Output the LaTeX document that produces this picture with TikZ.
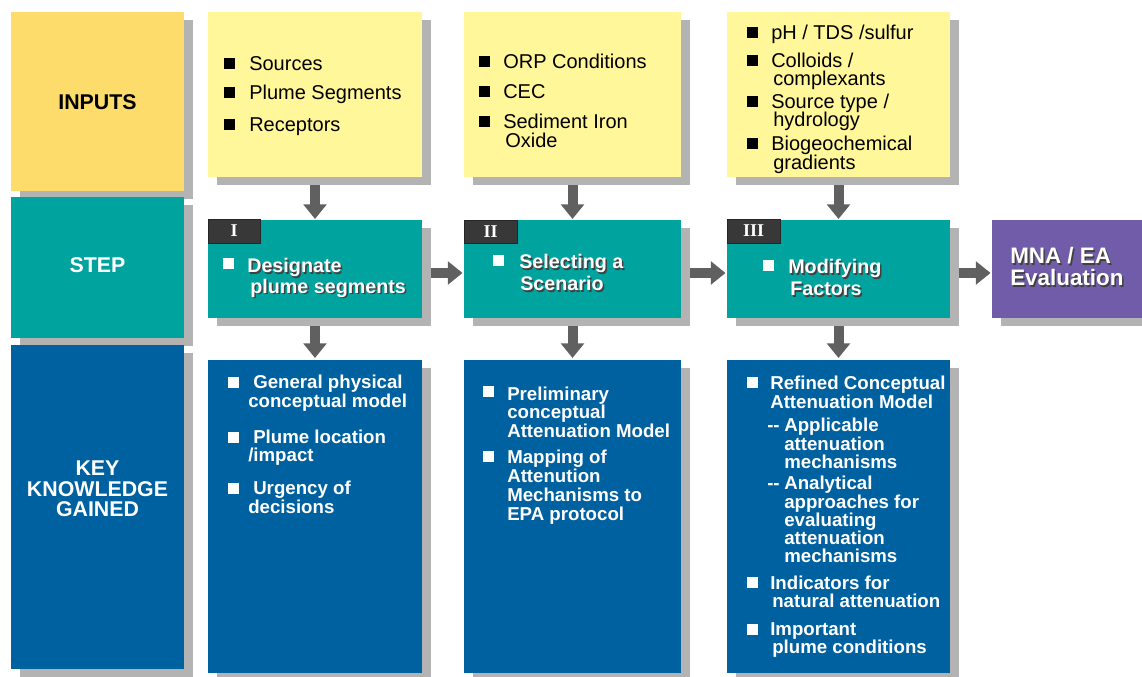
\documentclass[tikz,border=0pt]{standalone}
\usepackage{fontspec}
\setmainfont{Liberation Sans}
\newfontfamily\serifbf{Liberation Serif}
\usetikzlibrary{arrows.meta,calc}
\pgfdeclarelayer{bg}
\pgfsetlayers{bg,main}
\definecolor{cInY}{HTML}{FDDC6C}
\definecolor{cBoxY}{HTML}{FFF799}
\definecolor{cTeal}{HTML}{00A39E}
\definecolor{cBlue}{HTML}{0061A0}
\definecolor{cPur}{HTML}{705CA8}
\definecolor{cSh}{HTML}{B3B3B3}
\definecolor{cArr}{HTML}{606060}
\definecolor{cTab}{HTML}{383838}
\tikzset{
  box/.style={draw=none, inner sep=0pt, outer sep=0pt},
  arr/.style={draw=cArr, line width=7.5pt, -{Triangle[width=17pt,length=11pt]}},
  ytxt/.style={anchor=base west, inner sep=0pt, font=\fontsize{15}{15}\selectfont, text=black},
  stxt/.style={anchor=base west, inner sep=0pt, font=\bfseries\fontsize{14.8}{15}\selectfont},
  mtxt/.style={anchor=base west, inner sep=0pt, font=\bfseries\fontsize{16.8}{17}\selectfont},
  btxt/.style={anchor=base west, inner sep=0pt, font=\bfseries\fontsize{14}{14}\selectfont, text=white},
  lab/.style={anchor=base, inner sep=0pt, font=\bfseries\fontsize{16}{16}\selectfont},
  tabbox/.style={fill=cTab, draw=black!85, line width=0.6pt, inner sep=0pt},
  tabtxt/.style={font=\serifbf\bfseries\fontsize{13.5}{13.5}\selectfont, text=white, inner sep=0pt},
}
% box with drop shadow: name, x1, y1, x2, y2, fill
\newcommand\shbox[6]{%
  \fill[cSh] ({#2+9},{#3+8}) rectangle ({#4+9},{#5+8});
  \pgfmathsetmacro\bw{(#4-#2)*0.75}\pgfmathsetmacro\bh{(#5-#3)*0.75}%
  \node[box, fill=#6, minimum width=\bw pt, minimum height=\bh pt] (#1) at ({(#2+#4)/2},{(#3+#5)/2}) {};}
% bullet square: x, baseline, colour
\newcommand\bul[3]{\fill[#3] (#1,{#2-12.5}) rectangle ({#1+11},{#2-1.5});}
% shadowed white text: name, x, y, text, style
\newcommand\sht[5]{%
  \node[#5, text=black!75] at ({#2+1.5},{#3+1.5}) {#4};
  \node[#5, text=white] (#1) at (#2,#3) {#4};}
\begin{document}
\begin{tikzpicture}[x=0.75pt, y=-0.75pt]
\useasboundingbox (0,0) rectangle (1142,677);
\clip (0,0) rectangle (1142,677);

% left column
\shbox{lin}{11}{12}{184}{191}{cInY}
\shbox{lst}{11}{197}{184}{338}{cTeal}
\shbox{lkey}{11}{345}{184}{669}{cBlue}
\node[lab, text=black] (tin) at (97.5,110) {INPUTS};
\node[lab, text=white] (tst) at (97.5,273) {STEP};
\node[lab, text=white] (tk1) at (97.5,475) {KEY};
\node[lab, text=white] (tk2) at (97.5,496) {KNOWLEDGE};
\node[lab, text=white] (tk3) at (97.5,516) {GAINED};

% input boxes
\shbox{in1}{208}{12}{422}{177}{cBoxY}
\shbox{in2}{464}{12}{681}{177}{cBoxY}
\shbox{in3}{727}{12}{950}{177}{cBoxY}

% step boxes
\shbox{st1}{208}{220}{422}{318}{cTeal}
\shbox{st2}{464}{220}{681}{318}{cTeal}
\shbox{st3}{727}{220}{950}{318}{cTeal}
\shbox{mna}{992}{220}{1160}{318}{cPur}

% key knowledge boxes
\shbox{kb1}{208}{360}{422}{673}{cBlue}
\shbox{kb2}{464}{360}{681}{673}{cBlue}
\shbox{kb3}{727}{360}{950}{673}{cBlue}

% white page and arrows (behind boxes and shadows)
\begin{pgfonlayer}{bg}
\fill[white] (0,0) rectangle (1142,677);
\draw[arr] (in1.south) -- ([yshift=0.75pt]st1.north);
\draw[arr] (in2.south) -- ([yshift=0.75pt]st2.north);
\draw[arr] (in3.south) -- ([yshift=0.75pt]st3.north);
\draw[arr] (st1.south) -- ([yshift=1.5pt]kb1.north);
\draw[arr] (st2.south) -- ([yshift=1.5pt]kb2.north);
\draw[arr] (st3.south) -- ([yshift=1.5pt]kb3.north);
\draw[arr] ($(st1.east)+(0,4)$) -- ($(st2.west)+(-1.5,4)$);
\draw[arr] ($(st2.east)+(0,4)$) -- ($(st3.west)+(-1.5,4)$);
\draw[arr] ($(st3.east)+(0,4)$) -- ($(mna.west)+(-1.5,4)$);
\end{pgfonlayer}

% input texts
\bul{224}{71}{black}\node[ytxt] (a1) at (249,71) {Sources};
\bul{224}{100}{black}\node[ytxt] (a2) at (249,100) {Plume Segments};
\bul{224}{132}{black}\node[ytxt] (a3) at (249,132) {Receptors};

\bul{479}{69}{black}\node[ytxt] (b1) at (503,69) {ORP Conditions};
\bul{479}{99}{black}\node[ytxt] (b2) at (503,99) {CEC};
\bul{479}{129}{black}\node[ytxt] (b3) at (503,129) {Sediment Iron};
\node[ytxt] (b4) at (505,148) {Oxide};

\bul{747}{40}{black}\node[ytxt] (c1) at (771,40) {pH / TDS /sulfur};
\bul{747}{68}{black}\node[ytxt] (c2) at (771,68) {Colloids /};
\node[ytxt] (c3) at (773,86) {complexants};
\bul{747}{109}{black}\node[ytxt] (c4) at (771,109) {Source type /};
\node[ytxt] (c5) at (773,127) {hydrology};
\bul{747}{151}{black}\node[ytxt] (c6) at (771,151) {Biogeochemical};
\node[ytxt] (c7) at (773,170) {gradients};

% step tabs
\node[tabbox, minimum width=39pt, minimum height=18pt] (tab1) at (234,231) {};
\node[tabtxt] (tab1t) at (tab1) {I};
\node[tabbox, minimum width=39.75pt, minimum height=17.25pt] (tab2) at (490.5,231.5) {};
\node[tabtxt] (tab2t) at (tab2) {II};
\node[tabbox, minimum width=39.75pt, minimum height=18pt] (tab3) at (753.5,231) {};
\node[tabtxt] (tab3t) at (tab3) {III};

% step texts
\bul{223}{271}{white}
\sht{s1a}{247}{273}{Designate}{stxt}
\sht{s1b}{250}{293}{plume segments}{stxt}
\bul{493}{268}{white}
\sht{s2a}{519}{269}{Selecting a}{stxt}
\sht{s2b}{520}{291}{Scenario}{stxt}
\bul{763}{273}{white}
\sht{s3a}{788}{274}{Modifying}{stxt}
\sht{s3b}{790}{296}{Factors}{stxt}
\sht{m1}{1010}{264}{MNA / EA}{mtxt}
\sht{m2}{1010}{286}{Evaluation}{mtxt}

% key knowledge texts
\bul{228}{389}{white}
\node[btxt] (k1) at (253,388) {General physical};
\node[btxt] (k2) at (248,407) {conceptual model};
\bul{228}{444}{white}
\node[btxt] (k3) at (253,443) {Plume location};
\node[btxt] (k4) at (248,461) {/impact};
\bul{228}{495}{white}
\node[btxt] (k5) at (253,494) {Urgency of};
\node[btxt] (k6) at (248,513) {decisions};

\bul{483}{398}{white}
\node[btxt] (p1) at (507,400) {Preliminary};
\node[btxt] (p2) at (507,418) {conceptual};
\node[btxt] (p3) at (507,437) {Attenuation Model};
\bul{483}{463}{white}
\node[btxt] (p4) at (507,463) {Mapping of};
\node[btxt] (p5) at (507,482) {Attenution};
\node[btxt] (p6) at (507,501) {Mechanisms to};
\node[btxt] (p7) at (507,520) {EPA protocol};

\bul{747}{389}{white}
\node[btxt] (r1) at (770,389) {Refined Conceptual};
\node[btxt] (r2) at (770,408) {Attenuation Model};
\node[btxt] (r3) at (767,431) {-{}-};
\node[btxt] (r4) at (784,431) {Applicable};
\node[btxt] (r5) at (784,450) {attenuation};
\node[btxt] (r6) at (784,468) {mechanisms};
\node[btxt] (r7) at (767,489) {-{}-};
\node[btxt] (r8) at (784,489) {Analytical};
\node[btxt] (r9) at (784,508) {approaches for};
\node[btxt] (r10) at (784,526) {evaluating};
\node[btxt] (r11) at (784,544) {attenuation};
\node[btxt] (r12) at (784,562) {mechanisms};
\bul{747}{589}{white}
\node[btxt] (r13) at (770,589) {Indicators for};
\node[btxt] (r14) at (772,607) {natural attenuation};
\bul{747}{636}{white}
\node[btxt] (r15) at (770,635) {Important};
\node[btxt] (r16) at (772,653) {plume conditions};
\end{tikzpicture}
\end{document}
